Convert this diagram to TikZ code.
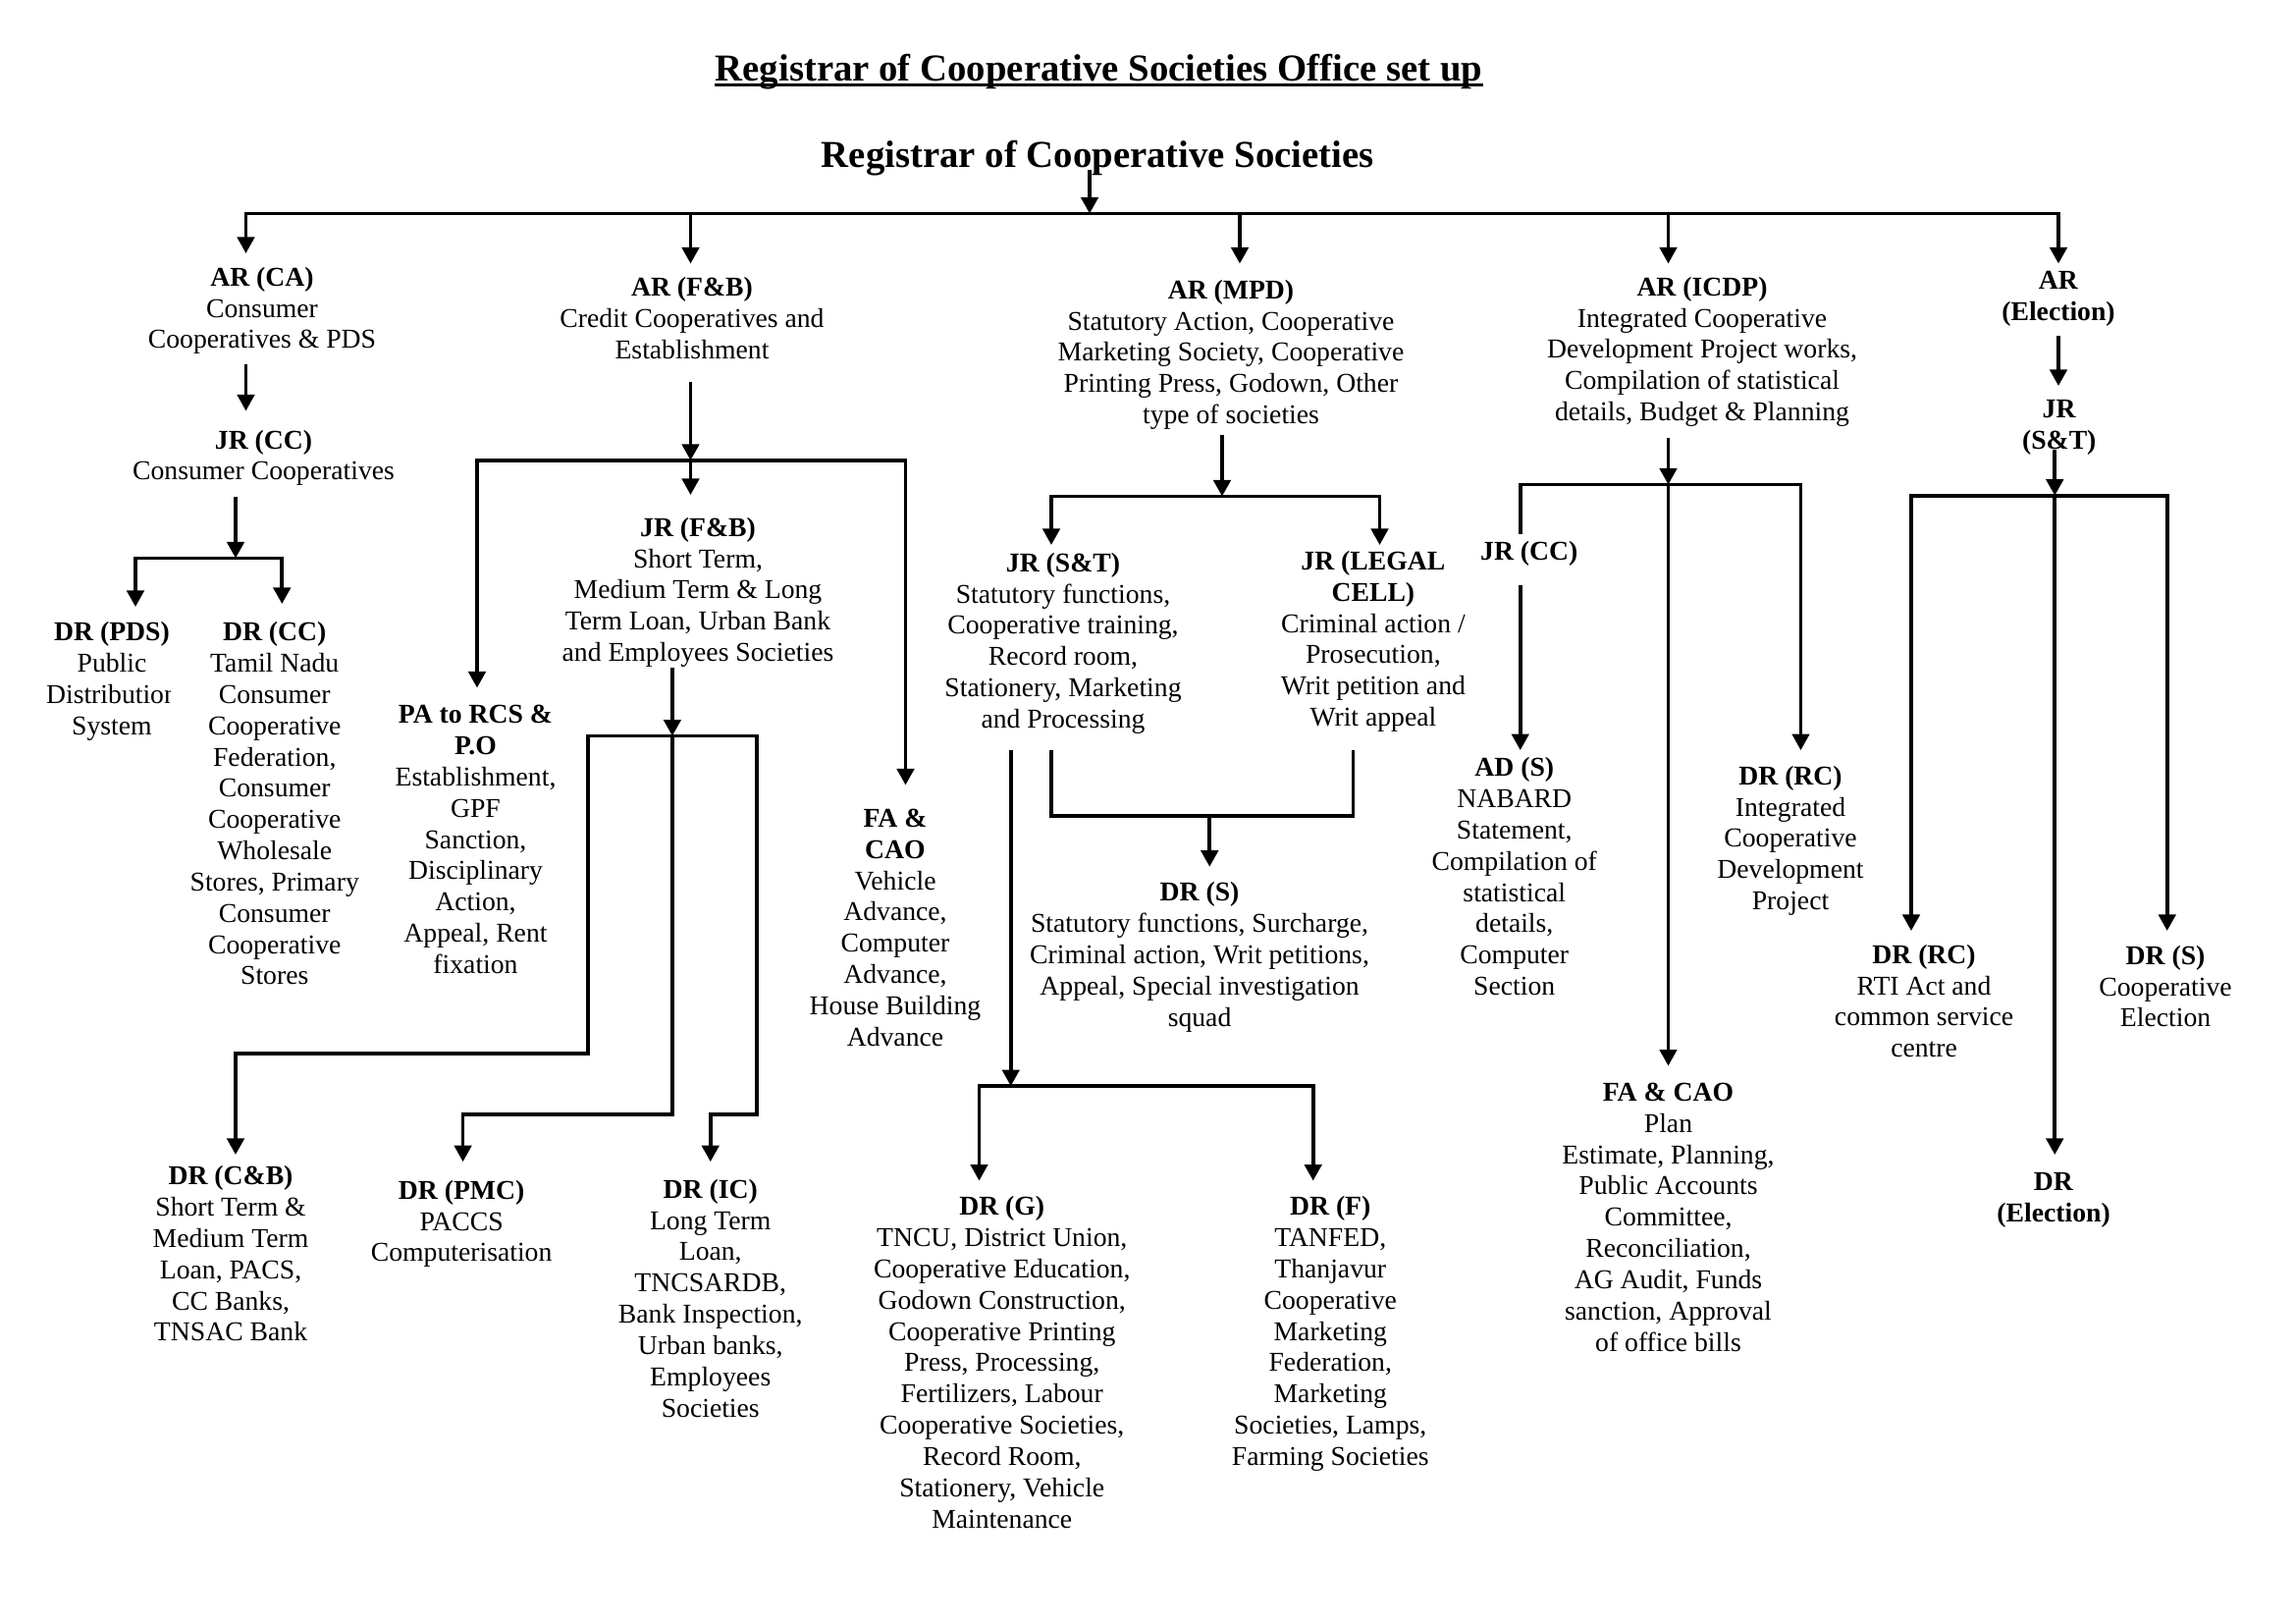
\documentclass[tikz,border=0pt]{standalone}
\usepackage{fontspec}
\setmainfont{Liberation Serif}
\usetikzlibrary{arrows.meta}
\begin{document}
\begin{tikzpicture}[x=0.019047cm,y=-0.019047cm,
  conn/.style={line width=1.3pt},
  arr/.style={conn,-{Triangle[length=2.1mm,width=2.2mm]}},
  barr/.style={conn,{Triangle[length=2.1mm,width=2.2mm]}-{Triangle[length=2.1mm,width=2.2mm]}},
  box/.style={anchor=north,inner sep=0pt,align=center,font=\fontsize{10}{11.5}\selectfont},
  hd/.style={anchor=base,inner sep=0pt,font=\fontsize{14}{16}\selectfont\bfseries}]
\useasboundingbox (0,0) rectangle (1559.33,1102.67);

% headings
\node[hd] (title) at (746.3,54.8) {Registrar of Cooperative Societies Office set up};
\draw[line width=1.1pt] ([yshift=-1.7pt]title.base west) -- ([yshift=-1.7pt]title.base east);
\node[hd] (head) at (745.6,113.8) {Registrar of Cooperative Societies};

% level AR
\node[box] (ARCA) at (178,181) {\textbf{AR (CA)}\\Consumer\\Cooperatives \& PDS};
\node[box] (ARFB) at (470,188) {\textbf{AR (F\&B)}\\Credit Cooperatives and\\Establishment};
\node[box] (ARMPD) at (836,189.6) {\textbf{AR (MPD)}\\Statutory Action, Cooperative\\Marketing Society, Cooperative\\Printing Press, Godown, Other\\type of societies};
\node[box] (ARICDP) at (1156,187.7) {\textbf{AR (ICDP)}\\Integrated Cooperative\\Development Project works,\\Compilation of statistical\\details, Budget \& Planning};
\node[box] (AREL) at (1398,184) {\textbf{AR}\\\textbf{(Election)}};

% level JR
\node[box] (JRCC1) at (179,291.5) {\textbf{JR (CC)}\\Consumer Cooperatives};
\node[box] (JRST2) at (1398.5,271) {\textbf{JR}\\\textbf{(S\&T)}};
\node[box] (JRFB) at (474,351) {\textbf{JR (F\&B)}\\Short Term,\\Medium Term \& Long\\Term Loan, Urban Bank\\and Employees Societies};
\node[box] (JRST) at (722,375) {\textbf{JR (S\&T)}\\Statutory functions,\\Cooperative training,\\Record room,\\Stationery, Marketing\\and Processing};
\node[box] (JRLEGAL) at (932.6,373.8) {\textbf{JR (LEGAL}\\\textbf{CELL)}\\Criminal action /\\Prosecution,\\Writ petition and\\Writ appeal};
\node[box] (JRCC2) at (1038.5,367.4) {\textbf{JR (CC)}};

% level DR / others
\begin{scope}
\clip (0,400) rectangle (115.5,520);
\node[box] (DRPDS) at (76,422) {\textbf{DR (PDS)}\\Public\\Distribution\\System};
\end{scope}
\node[box] (DRCC) at (186.5,422) {\textbf{DR (CC)}\\Tamil Nadu\\Consumer\\Cooperative\\Federation,\\Consumer\\Cooperative\\Wholesale\\Stores, Primary\\Consumer\\Cooperative\\Stores};
\node[box] (PA) at (323,478.5) {\textbf{PA to RCS \&}\\\textbf{P.O}\\Establishment,\\GPF\\Sanction,\\Disciplinary\\Action,\\Appeal, Rent\\fixation};
\node[box] (FA1) at (608,549) {\textbf{FA \&}\\\textbf{CAO}\\Vehicle\\Advance,\\Computer\\Advance,\\House Building\\Advance};
\node[box] (DRS) at (814.7,598.7) {\textbf{DR (S)}\\Statutory functions, Surcharge,\\Criminal action, Writ petitions,\\Appeal, Special investigation\\squad};
\node[box] (ADS) at (1028.5,514) {\textbf{AD (S)}\\NABARD\\Statement,\\Compilation of\\statistical\\details,\\Computer\\Section};
\node[box] (DRRC1) at (1216,519.7) {\textbf{DR (RC)}\\Integrated\\Cooperative\\Development\\Project};
\node[box] (DRRC2) at (1306.7,641) {\textbf{DR (RC)}\\RTI Act and\\common service\\centre};
\node[box] (DRS2) at (1470.7,641.6) {\textbf{DR (S)}\\Cooperative\\Election};
\node[box] (DRCB) at (156.7,791.3) {\textbf{DR (C\&B)}\\Short Term \&\\Medium Term\\Loan, PACS,\\CC Banks,\\TNSAC Bank};
\node[box] (DRPMC) at (313.4,801) {\textbf{DR (PMC)}\\PACCS\\Computerisation};
\node[box] (DRIC) at (482.5,800.3) {\textbf{DR (IC)}\\Long Term\\Loan,\\TNCSARDB,\\Bank Inspection,\\Urban banks,\\Employees\\Societies};
\node[box] (DRG) at (680.5,812) {\textbf{DR (G)}\\TNCU, District Union,\\Cooperative Education,\\Godown Construction,\\Cooperative Printing\\Press, Processing,\\Fertilizers, Labour\\Cooperative Societies,\\Record Room,\\Stationery, Vehicle\\Maintenance};
\node[box] (DRF) at (903.5,812) {\textbf{DR (F)}\\TANFED,\\Thanjavur\\Cooperative\\Marketing\\Federation,\\Marketing\\Societies, Lamps,\\Farming Societies};
\node[box] (FA2) at (1133,735) {\textbf{FA \& CAO}\\Plan\\Estimate, Planning,\\Public Accounts\\Committee,\\Reconciliation,\\AG Audit, Funds\\sanction, Approval\\of office bills};
\node[box] (DREL) at (1394.7,796) {\textbf{DR}\\\textbf{(Election)}};

% ---------- connectors ----------
% heading to main bus
\coordinate (h1) at (740,115.6);
\coordinate (hb) at (740,145);
\draw[arr] (h1) -- (hb);
\coordinate (b1) at (167,145); \coordinate (b2) at (469,145);
\coordinate (b3) at (842,145); \coordinate (b4) at (1133,145);
\coordinate (b5) at (1398,145);
\coordinate (tARCA) at (167,172); \coordinate (tARFB) at (469,179);
\coordinate (tARMPD) at (842,179); \coordinate (tARICDP) at (1133,179);
\coordinate (tAREL) at (1398,179);
\draw[barr] (tARCA) -- (b1) -- (b5) -- (tAREL);
\draw[arr] (b2) -- (tARFB);
\draw[arr] (b3) -- (tARMPD);
\draw[arr] (b4) -- (tARICDP);

% AR (CA) column
\coordinate (ca1) at (167,247); \coordinate (tJRCC1) at (167,279);
\draw[arr] (ca1) -- (tJRCC1);
\coordinate (cc1) at (160,337.5); \coordinate (ccbus) at (160,379);
\draw[arr] (cc1) -- (ccbus);
\coordinate (tDRPDS) at (92,412); \coordinate (tDRCC) at (191.5,410);
\draw[barr] (tDRPDS) -- (92,379) -- (191.5,379) -- (tDRCC);

% AR (F&B) column
\coordinate (fb1) at (469,259); \coordinate (fbbus) at (469,312.6);
\coordinate (tJRFB) at (469,336);
\draw[arr] (fb1) -- (fbbus);
\draw[arr] (fbbus) -- (tJRFB);
\coordinate (tPA) at (324,467); \coordinate (tFA1) at (615,533);
\draw[barr] (tPA) -- (324,312.6) -- (615,312.6) -- (tFA1);
\coordinate (jf1) at (456.6,453); \coordinate (jfbus) at (456.6,499.7);
\draw[arr] (jf1) -- (jfbus);
\coordinate (tDRCB) at (160,784); \coordinate (tDRIC) at (482.5,788.8);
\coordinate (tDRPMC) at (314.4,788.8);
\draw[barr] (tDRCB) -- (160,715.4) -- (399.5,715.4) -- (399.5,499.7) -- (514,499.7) -- (514,756.7) -- (482.5,756.7) -- (tDRIC);
\draw[arr] (jfbus) -- (456.6,756.7) -- (314.4,756.7) -- (tDRPMC);

% AR (MPD) column
\coordinate (mp1) at (830,295); \coordinate (mpbus) at (830,337);
\draw[arr] (mp1) -- (mpbus);
\coordinate (tJRST) at (714,370); \coordinate (tJRLEGAL) at (937,370);
\draw[barr] (tJRST) -- (714,337) -- (937,337) -- (tJRLEGAL);
\coordinate (st1) at (686.5,509.4); \coordinate (stbus) at (686.5,737.4);
\draw[arr] (st1) -- (stbus);
\coordinate (tDRG) at (665,801.7); \coordinate (tDRF) at (891.8,801.7);
\draw[barr] (tDRG) -- (665,737.4) -- (891.8,737.4) -- (tDRF);
\coordinate (st2) at (714,509.4); \coordinate (lg1) at (919,509.4);
\draw[conn] (st2) -- (714,554) -- (919,554) -- (lg1);
\coordinate (sbus) at (821.5,554); \coordinate (tDRS) at (821.5,588.5);
\draw[arr] (sbus) -- (tDRS);

% AR (ICDP) column
\coordinate (ic1) at (1133,297.6); \coordinate (icbus) at (1133,329);
\coordinate (tFA2) at (1133,723.7);
\draw[arr] (ic1) -- (icbus);
\draw[arr] (icbus) -- (tFA2);
\coordinate (jc0) at (1032.5,362.7); \coordinate (tDRRC1) at (1223,509.4);
\draw[arr] (jc0) -- (1032.5,329) -- (1223,329) -- (tDRRC1);
\coordinate (jc1) at (1032.5,397); \coordinate (tADS) at (1032.5,509.4);
\draw[arr] (jc1) -- (tADS);

% AR (Election) column
\coordinate (el1) at (1398,228); \coordinate (tJRST2) at (1398,262);
\draw[arr] (el1) -- (tJRST2);
\coordinate (js1) at (1395.5,305.5); \coordinate (jsbus) at (1395.5,336.5);
\draw[arr] (js1) -- (jsbus);
\coordinate (tDRRC2) at (1298,632); \coordinate (tDRS2) at (1471.8,632);
\draw[barr] (tDRRC2) -- (1298,336.5) -- (1471.8,336.5) -- (tDRS2);
\coordinate (tDREL) at (1395.5,784);
\draw[arr] (jsbus) -- (tDREL);
\end{tikzpicture}
\end{document}
